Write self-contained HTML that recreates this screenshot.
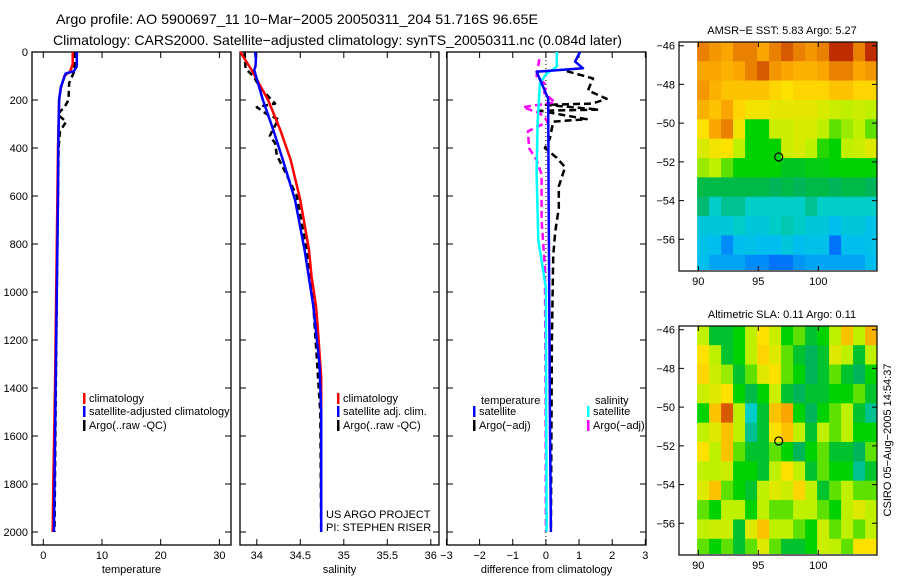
<!DOCTYPE html>
<html><head><meta charset="utf-8"><style>
body{margin:0;background:#fff;}
svg{display:block;font-family:"Liberation Sans",sans-serif;}
</style></head><body>
<svg id="c" width="900" height="580" viewBox="0 0 900 580">
<text x="56" y="24" font-size="14" textLength="482" lengthAdjust="spacingAndGlyphs">Argo profile: AO 5900697_11 10−Mar−2005 20050311_204 51.716S 96.65E</text>
<text x="53" y="45" font-size="14" textLength="569" lengthAdjust="spacingAndGlyphs">Climatology: CARS2000. Satellite−adjusted climatology: synTS_20050311.nc (0.084d later)</text>
<text x="782" y="34" font-size="11" text-anchor="middle">AMSR−E SST: 5.83 Argo: 5.27</text>
<text x="782" y="318" font-size="11" text-anchor="middle">Altimetric SLA: 0.11 Argo: 0.11</text>
<text transform="translate(891,440) rotate(-90)" font-size="11" text-anchor="middle">CSIRO 05−Aug−2005 14:54:37</text>
</svg>
<script>
// ---- data ----
const depthTicks=[0,200,400,600,800,1000,1200,1400,1600,1800,2000];
const tempTicks=[0,10,20,30];
const salTicks=[34,34.5,35,35.5,36];
const diffTicks=[-3,-2,-1,0,1,2,3];
const tClimD=[0,50,80,100,150,200,400,600,1000,1400,1800,2000];
const tClimV=[5.0,5.0,4.6,3.6,3.0,2.7,2.5,2.4,2.2,2.0,1.7,1.6];
const tSatD=[0,60,80,90,145,200,400,600,1000,1400,1800,2000];
const tSatV=[5.7,5.7,5.2,3.8,3.0,2.7,2.55,2.5,2.3,2.1,1.9,1.8];
const tArgoD=[0,80,130,200,230,260,290,330,400,600,1000,1500,2000];
const tArgoV=[5.3,5.3,4.4,4.3,3.6,2.4,3.9,2.85,2.6,2.5,2.3,2.1,1.9];
const sClimD=[0,75,200,325,450,617,825,937,1058,1146,1354,1804];
const sClimV=[33.81,33.94,34.13,34.27,34.39,34.50,34.60,34.63,34.68,34.70,34.74,34.74];
const sSatD=[0,30,60,75,200,325,450,617,825,1058,1300,1500,2000];
const sSatV=[33.98,33.99,33.985,33.97,34.07,34.19,34.30,34.44,34.55,34.65,34.72,34.74,34.74];
const sArgoD=[0,70,100,150,215,230,260,280,320,350,380,430,480,600,800,1000,1500,2000];
const sArgoV=[33.86,33.87,33.96,34.04,34.21,34.0,34.12,34.25,34.19,34.15,34.21,34.23,34.30,34.46,34.56,34.64,34.73,34.74];
const dTSatD=[0,40,68,82,130,195,600,1000,1500,2000];
const dTSatV=[1.03,0.88,1.12,-0.28,-0.13,0.07,0.08,0.1,0.12,0.15];
const dSSatD=[0,61,90,130,296,505,783,983,1500,2000];
const dSSatV=[0.33,0.33,0.02,-0.18,-0.25,-0.28,-0.23,0.0,0.01,0.02];
const dTArgoD=[80,110,160,195,215,220,240,245,280,290,360,400,440,480,560,650,750,850,1200,2000];
const dTArgoV=[0.63,1.42,1.27,1.83,1.4,0.0,1.6,-0.18,1.23,0.22,0.12,-0.03,0.32,0.58,0.39,0.39,0.28,0.22,0.18,0.15];
const dSArgoD=[30,100,140,170,210,230,255,290,330,400,450,510,700,900,1400,2000];
const dSArgoV=[-0.2,-0.28,0.02,-0.05,0.27,-0.69,-0.18,0.07,-0.54,-0.51,-0.28,-0.13,-0.13,-0.03,-0.01,0.0];
const lonTicks=[90,95,100];
const latTicks=[-46,-48,-50,-52,-54,-56];
const sstGrid=[
[.85,.82,.8,.85,.85,.8,.85,.9,.85,.82,.85,.95,.95,.85,.95],
[.8,.8,.78,.8,.85,.9,.82,.8,.78,.78,.8,.85,.85,.8,.82],
[.82,.78,.75,.75,.75,.75,.72,.7,.72,.72,.72,.75,.75,.72,.72],
[.78,.75,.8,.72,.68,.68,.66,.66,.66,.66,.64,.62,.6,.62,.6],
[.7,.8,.85,.68,.5,.5,.62,.62,.64,.64,.6,.55,.58,.6,.55],
[.64,.68,.7,.6,.5,.5,.5,.62,.64,.6,.52,.5,.6,.62,.65],
[.58,.6,.55,.5,.5,.5,.5,.46,.46,.48,.48,.5,.5,.5,.5],
[.42,.42,.42,.42,.42,.42,.4,.42,.4,.42,.42,.4,.42,.42,.4],
[.38,.3,.35,.35,.3,.3,.3,.3,.3,.35,.3,.3,.3,.3,.3],
[.25,.25,.25,.3,.25,.25,.3,.32,.3,.25,.25,.2,.25,.25,.22],
[.22,.2,.1,.2,.22,.2,.2,.25,.2,.22,.22,.05,.2,.2,.22],
[.2,.15,.15,.15,.1,.1,.05,.05,.12,.15,.15,.15,.15,.15,.2]];
const slaGrid=[
[.6,.45,.45,.5,.6,.7,.62,.5,.55,.45,.5,.6,.75,.6,.78],
[.7,.6,.45,.5,.6,.72,.65,.55,.45,.4,.45,.65,.6,.45,.6],
[.72,.62,.58,.45,.55,.65,.7,.55,.5,.4,.45,.55,.45,.4,.5],
[.62,.65,.7,.5,.42,.5,.62,.45,.4,.45,.45,.5,.5,.55,.45],
[.5,.75,.9,.6,.3,.45,.75,.8,.5,.4,.5,.55,.6,.45,.35],
[.6,.65,.75,.6,.35,.45,.7,.75,.6,.45,.6,.55,.6,.5,.5],
[.7,.6,.75,.55,.45,.45,.55,.5,.4,.5,.55,.45,.45,.4,.55],
[.6,.6,.62,.5,.5,.45,.6,.7,.6,.45,.55,.5,.5,.35,.45],
[.65,.75,.55,.5,.45,.6,.65,.62,.72,.6,.45,.55,.6,.55,.55],
[.55,.5,.6,.6,.5,.6,.55,.55,.6,.6,.55,.5,.6,.65,.6],
[.6,.62,.62,.45,.65,.75,.6,.6,.55,.5,.62,.55,.6,.55,.6],
[.55,.5,.55,.45,.55,.65,.55,.45,.45,.5,.62,.6,.55,.7,.7]];
const floatLon=96.7, floatLat=-51.75;

// ---- drawing ----
const svg=document.getElementById('c');
const NS='http://www.w3.org/2000/svg';
function mk(tag,attrs){const e=document.createElementNS(NS,tag);for(const k in attrs)e.setAttribute(k,attrs[k]);svg.appendChild(e);return e;}
const Y0=52,Ypx=0.24,PT=52,PB=545;
const yS=d=>Y0+d*Ypx;
function panel(name,x0,x1,xs,ticks,label,fmt){
  const r=mk('rect',{x:x0,y:PT,width:x1-x0,height:PB-PT,fill:'none',stroke:'#000','stroke-width':1.3});
  
  
  ticks.forEach(t=>{const x=xs(t);
    const l=mk('path',{d:`M${x},${PB}v-6M${x},${PT}v6`,stroke:'#000'});
    
    
    const tx=mk('text',{x:x,y:PB+14,'font-size':11,'text-anchor':'middle'});tx.textContent=fmt(t);
    
    
  });
  depthTicks.forEach(d=>{const y=yS(d);
    const l=mk('path',{d:`M${x0},${y}h6M${x1},${y}h-6`,stroke:'#000'});
    
    
  });
  const t=mk('text',{x:(x0+x1)/2,y:573,'font-size':11,'text-anchor':'middle'});t.textContent=label;
  
  
}
function line(name,D,V,xs,color,dash){
  const pts=D.map((d,i)=>xs(V[i]).toFixed(1)+','+yS(d).toFixed(1)).join(' ');
  const a={points:pts,fill:'none',stroke:color,'stroke-width':2.5,'stroke-linejoin':'round'};
  if(dash)a['stroke-dasharray']=dash;
  const p=mk('polyline',a);
  
  
}
function legend(name,x,y,color,txt){
  const r=mk('rect',{x:x,y:y-9,width:2.5,height:11,fill:color});
  
  
  const t=mk('text',{x:x+6,y:y,'font-size':11});t.textContent=txt;
  
  
}
const xT=v=>43.3+v*5.87, xSal=v=>256.8+(v-34)*87, xD=v=>545.9+v*33.15;
depthTicks.forEach(d=>{const t=mk('text',{x:28,y:yS(d)+4,'font-size':11,'text-anchor':'end'});t.textContent=d;
  
  });
panel('temperature-panel',32,231,xT,tempTicks,'temperature',v=>v);
panel('salinity-panel',240,439,xSal,salTicks,'salinity',v=>v);
panel('difference-panel',447,646,xD,diffTicks,'difference from climatology',v=>v<0?'−'+(-v):v);
{const l=mk('line',{x1:xD(0),x2:xD(0),y1:PT,y2:PB,stroke:'#000','stroke-dasharray':'1,3'});
}
line('temp-argo',tArgoD,tArgoV,xT,'#000','6,4');
line('temp-climatology',tClimD,tClimV,xT,'#f00');
line('temp-satellite',tSatD,tSatV,xT,'#00f');
line('sal-argo',sArgoD,sArgoV,xSal,'#000','6,4');
line('sal-climatology',sClimD,sClimV,xSal,'#f00');
line('sal-satellite',sSatD,sSatV,xSal,'#00f');
line('diff-temp-argo',dTArgoD,dTArgoV,xD,'#000','7,4');
line('diff-sal-argo',dSArgoD,dSArgoV,xD,'#f0f','7,4');
line('diff-sal-satellite',dSSatD,dSSatV,xD,'#0ff');
line('diff-temp-satellite',dTSatD,dTSatV,xD,'#00f');
legend('legend-climatology',83,402,'#f00','climatology');
legend('legend-satellite-adjusted',83,415,'#00f','satellite-adjusted climatology');
legend('legend-argo-raw',83,429,'#000','Argo(..raw -QC)');
legend('legend-sal-climatology',337,402,'#f00','climatology');
legend('legend-sal-satellite',337,415,'#00f','satellite adj. clim.');
legend('legend-sal-argo',337,429,'#000','Argo(..raw -QC)');
{const t=mk('text',{x:481,y:404,'font-size':11});t.textContent='temperature';}
legend('legend-diff-temp-satellite',473,415,'#00f','satellite');
legend('legend-diff-temp-argo',473,429,'#000','Argo(−adj)');
{const t=mk('text',{x:595,y:404,'font-size':11});t.textContent='salinity';}
legend('legend-diff-sal-satellite',587,415,'#0ff','satellite');
legend('legend-diff-sal-argo',587,429,'#f0f','Argo(−adj)');
{const t=mk('text',{x:326,y:518,'font-size':11});t.textContent='US ARGO PROJECT';
const t2=mk('text',{x:326,y:531,'font-size':11});t2.textContent='PI: STEPHEN RISER';}

// ---- maps ----
const stops=[[0,[0,90,255]],[.2,[0,190,240]],[.3,[0,205,200]],[.4,[0,180,90]],[.5,[0,210,0]],[.6,[190,240,0]],[.7,[255,225,0]],[.8,[250,165,0]],[.9,[215,90,0]],[1,[165,0,0]]];
function cmap(v){for(let i=1;i<stops.length;i++){if(v<=stops[i][0]){const[a,ca]=stops[i-1],[b,cb]=stops[i];const f=(v-a)/(b-a);return 'rgb('+ca.map((c,k)=>Math.round(c+(cb[k]-c)*f)).join(',')+')';}}return 'rgb(165,0,0)';}
function map(name,dy,grid){
  const lx=v=>698.3+(v-90)*12, ly=v=>dy+45.7+(-46-v)*19.36;
  const top=dy+42,bot=dy+271;
  const cp=mk('clipPath',{id:name+'-clip'});
  const cr=document.createElementNS(NS,'rect');cr.setAttribute('x',697);cr.setAttribute('y',top);cr.setAttribute('width',180);cr.setAttribute('height',bot-top-1);cp.appendChild(cr);
  const g=mk('g',{'clip-path':`url(#${name}-clip)`});
  grid.forEach((row,i)=>row.forEach((v,j)=>{
    const r=document.createElementNS(NS,'rect');
    const x=lx(89.9+j),y=ly(-45.8-i);
    r.setAttribute('x',x);r.setAttribute('y',y);r.setAttribute('width',12.5);r.setAttribute('height',19.9);r.setAttribute('fill',cmap(v));
    
    
    g.appendChild(r);}));
  const f=mk('rect',{x:679,y:top,width:198,height:bot-top,fill:'none',stroke:'#000','stroke-width':1.2});
  
  
  lonTicks.forEach(t=>{const x=lx(t);const l=mk('path',{d:`M${x},${bot}v-5M${x},${top}v5`,stroke:'#000'});
    
    const tx=mk('text',{x:x,y:bot+14,'font-size':11,'text-anchor':'middle'});tx.textContent=t;
    });
  latTicks.forEach(t=>{const y=ly(t);const l=mk('path',{d:`M679,${y}h5M877,${y}h-5`,stroke:'#000'});
    
    const tx=mk('text',{x:675,y:y+4,'font-size':11,'text-anchor':'end'});tx.textContent='−'+(-t);
    });
  const c=mk('circle',{cx:lx(floatLon),cy:ly(floatLat),r:4,fill:'none',stroke:'#000','stroke-width':1.2});
  
  
}
map('sst-map',0,sstGrid);
map('sla-map',284,slaGrid);
</script>
</body></html>
